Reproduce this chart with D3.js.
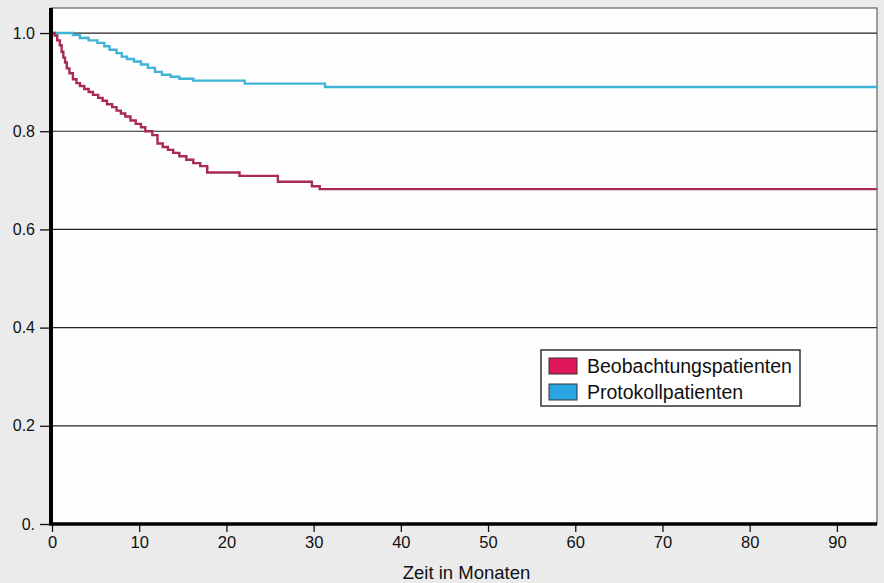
<!DOCTYPE html>
<html>
<head>
<meta charset="utf-8">
<script src="https://cdn.jsdelivr.net/npm/d3@7"></script>
<style>
  body { margin: 0; background: #ebebeb; }
  svg { display: block; font-family: "Liberation Sans", Arial, sans-serif; }
</style>
</head>
<body>
<div id="chart"></div>
<script>
// Kaplan-Meier steps (months, survival)
const redTimes = [0, 0.3, 0.6, 0.9, 1.1, 1.3, 1.5, 1.7, 2.0, 2.4, 2.8, 3.2, 3.7, 4.2, 4.7, 5.3, 5.8, 6.3, 6.9, 7.4, 7.9, 8.4, 9.0, 9.6, 10.2, 10.7, 11.5, 12.1, 12.7, 13.3, 13.9, 14.6, 15.4, 16.2, 17.0, 17.8, 21.5, 25.9, 29.8, 30.7];
const redSurv = [1.0, 0.995, 0.985, 0.975, 0.962, 0.950, 0.940, 0.928, 0.918, 0.906, 0.898, 0.892, 0.886, 0.880, 0.874, 0.868, 0.862, 0.855, 0.849, 0.842, 0.836, 0.830, 0.822, 0.815, 0.808, 0.800, 0.792, 0.775, 0.768, 0.762, 0.756, 0.749, 0.742, 0.735, 0.729, 0.716, 0.709, 0.697, 0.688, 0.682];

const blueTimes = [0, 2.4, 3.2, 4.2, 5.2, 6.0, 6.6, 7.4, 8.0, 8.6, 9.4, 10.2, 11.0, 11.8, 12.6, 13.6, 14.6, 16.2, 22.1, 31.3];
const blueSurv = [1.0, 0.996, 0.990, 0.985, 0.980, 0.973, 0.966, 0.959, 0.952, 0.947, 0.942, 0.936, 0.929, 0.921, 0.915, 0.911, 0.907, 0.903, 0.897, 0.890];

const seriesNames = ["Beobachtungspatienten", "Protokollpatienten"];
const lineColors = ["#a82a55", "#3fb3d8"];
const swatchColors = ["#e0175c", "#2ba6e2"];

const yTicks = [0, 0.2, 0.4, 0.6, 0.8, 1.0];
const yTickLabels = ["0.", "0.2", "0.4", "0.6", "0.8", "1.0"];
const xTicks = [0, 10, 20, 30, 40, 50, 60, 70, 80, 90];
const xMax = 94.6;

const width = 884, height = 583;
const margin = {top: 8, right: 7, bottom: 59, left: 52};

const svg = d3.select("#chart").append("svg")
    .attr("width", width)
    .attr("height", height);

const x = d3.scaleLinear().domain([0, xMax]).range([margin.left, width - margin.right]);
const y = d3.scaleLinear().domain([0, 1.051]).range([height - margin.bottom, margin.top]);

// white plot area
svg.append("rect")
    .attr("x", x(0) - 1)
    .attr("y", y(1.051))
    .attr("width", x(xMax) - x(0) + 1)
    .attr("height", y(0) - y(1.051))
    .attr("fill", "#fefefe")
    .attr("stroke", "#444")
    .attr("stroke-width", 1);

// grid lines
svg.append("g")
    .selectAll("line")
    .data(yTicks.filter(d => d > 0))
    .enter()
    .append("line")
    .attr("x1", x(0))
    .attr("x2", x(xMax))
    .attr("y1", d => y(d))
    .attr("y2", d => y(d))
    .attr("stroke", "#222")
    .attr("stroke-width", 1.2);

// lines
const line = d3.line()
    .x(d => x(d[0]))
    .y(d => y(d[1]))
    .curve(d3.curveStepAfter);

const redData = redTimes.map((t, i) => [t, redSurv[i]]);
redData.push([xMax, redSurv[redSurv.length - 1]]);
const blueData = blueTimes.map((t, i) => [t, blueSurv[i]]);
blueData.push([xMax, blueSurv[blueSurv.length - 1]]);

[blueData, redData].forEach((d, i) => {
    svg.append("path")
        .datum(d)
        .attr("fill", "none")
        .attr("stroke", i === 0 ? lineColors[1] : lineColors[0])
        .attr("stroke-width", 2.4)
        .attr("d", line);
});

// axes
const yAxis = d3.axisLeft(y)
    .tickValues(yTicks)
    .tickFormat((d, i) => yTickLabels[i])
    .tickSize(11)
    .tickPadding(5);

const yG = svg.append("g")
    .attr("transform", `translate(${margin.left - 1},0)`)
    .call(yAxis);
yG.select(".domain").remove();
yG.selectAll("line").attr("stroke", "#111").attr("stroke-width", 1.3);
yG.selectAll("text").style("font-size", "16px").attr("fill", "#111");

const xAxis = d3.axisBottom(x)
    .tickValues(xTicks)
    .tickSize(8)
    .tickPadding(4);

const xG = svg.append("g")
    .attr("transform", `translate(0,${height - margin.bottom})`)
    .call(xAxis);
xG.select(".domain").remove();
xG.selectAll("line").attr("stroke", "#111").attr("stroke-width", 1.3);
xG.selectAll("text").style("font-size", "16.5px").attr("fill", "#111");

// thick axis lines
svg.append("line")
    .attr("x1", x(0) - 1).attr("x2", x(0) - 1)
    .attr("y1", y(1.051)).attr("y2", y(0) + 1)
    .attr("stroke", "#000").attr("stroke-width", 4);
svg.append("line")
    .attr("x1", x(0) - 3).attr("x2", x(xMax))
    .attr("y1", y(0)).attr("y2", y(0))
    .attr("stroke", "#000").attr("stroke-width", 3.5);

svg.append("text")
    .attr("x", (x(0) + x(xMax)) / 2 + 2)
    .attr("y", height - 4)
    .attr("text-anchor", "middle")
    .style("font-size", "18.5px")
    .attr("fill", "#111")
    .text("Zeit in Monaten");

// legend
const legend = svg.append("g").attr("transform", "translate(541,350)");
legend.append("rect")
    .attr("width", 259)
    .attr("height", 56)
    .attr("fill", "#fff")
    .attr("stroke", "#333")
    .attr("stroke-width", 1.5);

seriesNames.forEach((name, i) => {
    const item = legend.append("g").attr("transform", `translate(8,${8 + i * 26})`);
    item.append("rect")
        .attr("width", 28)
        .attr("height", 16)
        .attr("fill", swatchColors[i])
        .attr("stroke", "#333")
        .attr("stroke-width", 1);
    item.append("text")
        .attr("x", 38)
        .attr("y", 15)
        .style("font-size", "19.5px")
        .attr("fill", "#111")
        .text(name);
});
</script>
</body>
</html>
